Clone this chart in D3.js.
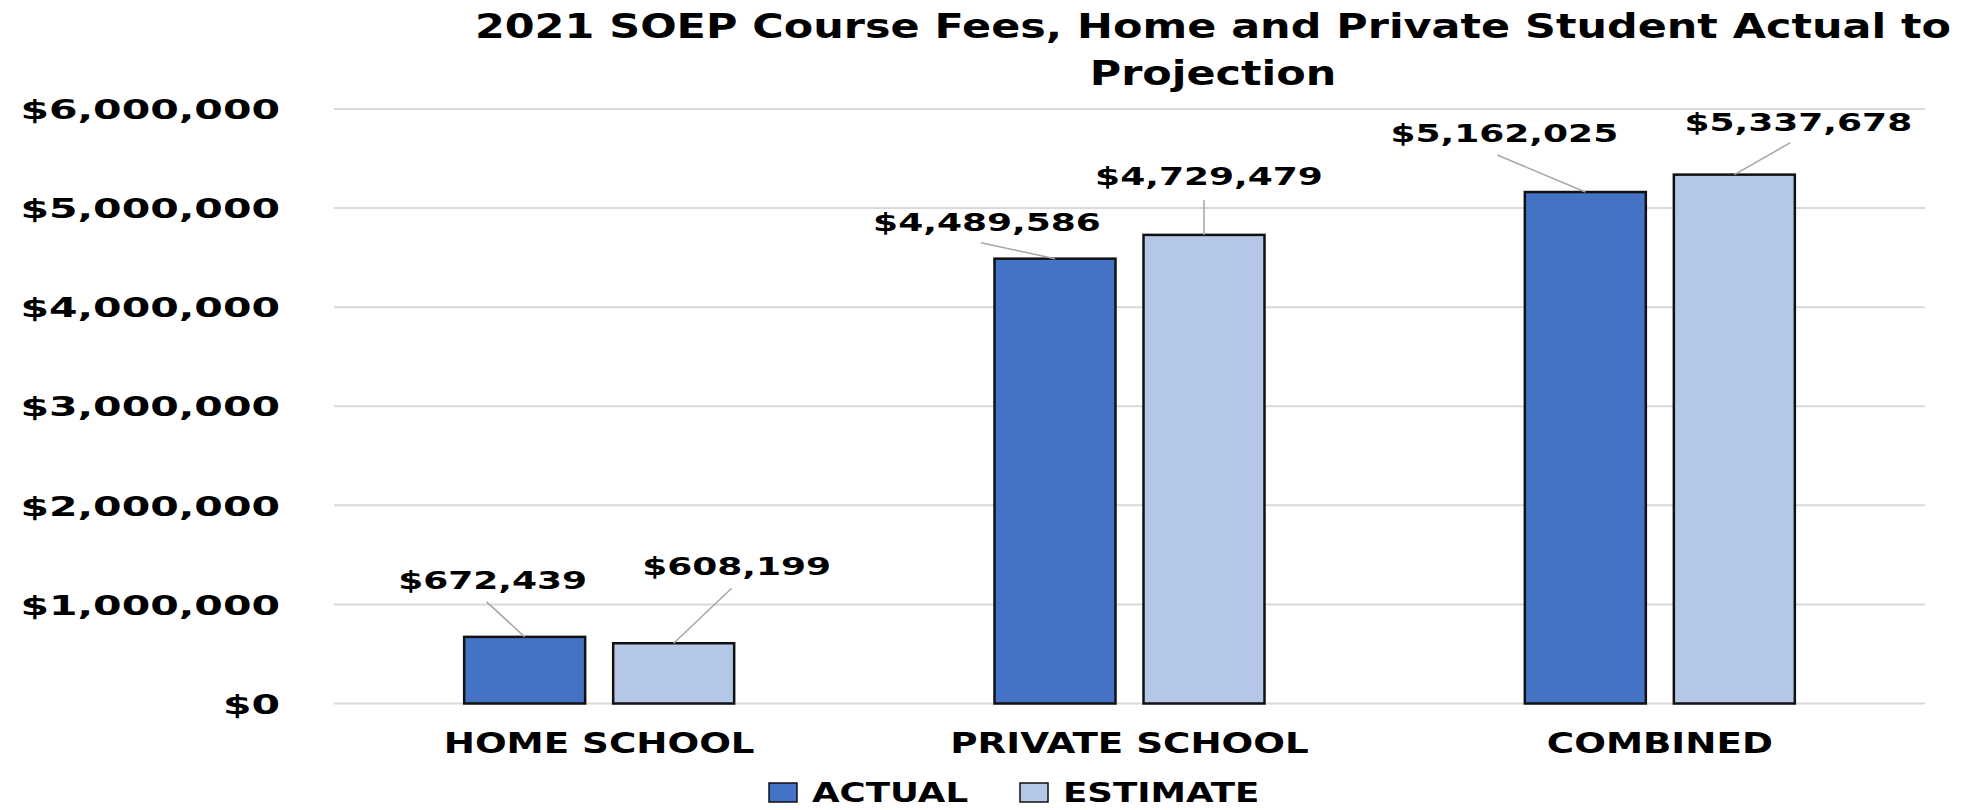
<!DOCTYPE html>
<html>
<head>
<meta charset="utf-8">
<script src="https://cdn.jsdelivr.net/npm/d3@7"></script>
<style>
  html, body { margin: 0; padding: 0; background: #ffffff; }
  svg { display: block; }
  text { font-family: "DejaVu Sans", Verdana, sans-serif; font-weight: bold; fill: #000; }
</style>
</head>
<body>
<svg id="chart" width="1981" height="810"></svg>
<script>
// ---------------- data ----------------
const titleLines = ["2021 SOEP Course Fees, Home and Private Student Actual to", "Projection"];
const categories = ["HOME SCHOOL", "PRIVATE SCHOOL", "COMBINED"];
const seriesNames = ["ACTUAL", "ESTIMATE"];
const actualValues = [672439, 4489586, 5162025];
const estimateValues = [608199, 4729479, 5337678];
const yTickValues = [0, 1000000, 2000000, 3000000, 4000000, 5000000, 6000000];

// ---------------- layout (label offsets from bar top centre, leader start) ----------------
const labelLayout = {
  "ACTUAL":   [{dx: -32, dy: -48, lx: -38, ly: -35}, {dx: -68, dy: -28, lx: -74, ly: -16}, {dx: -81, dy: -50, lx: -88, ly: -37}],
  "ESTIMATE": [{dx: 63, dy: -68, lx: 58, ly: -55},   {dx: 5, dy: -50, lx: 0, ly: -35},     {dx: 64, dy: -44, lx: 56, ly: -32}]
};
const colors = {"ACTUAL": "#4472C4", "ESTIMATE": "#B4C7E7"};

const svg = d3.select("#chart");
const plot = {left: 334, right: 1925, top: 109, bottom: 703.5};

function stretch(sel, k) {
  sel.each(function() {
    const w = this.getComputedTextLength();
    d3.select(this).attr("textLength", w * k).attr("lengthAdjust", "spacingAndGlyphs");
  });
}

const y = d3.scaleLinear().domain([0, 6000000]).range([plot.bottom, plot.top]);
const x0 = d3.scaleBand().domain(categories).range([plot.left, plot.right]).paddingInner(0).paddingOuter(0);
const bw = x0.bandwidth();
const x1 = d3.scaleBand().domain(seriesNames).range([bw / 2 - 135, bw / 2 + 135]).paddingInner(0.188);

// gridlines
svg.append("g").selectAll("line").data(yTickValues).join("line")
  .attr("x1", plot.left).attr("x2", plot.right)
  .attr("y1", d => y(d)).attr("y2", d => y(d))
  .attr("stroke", "#d9d9d9").attr("stroke-width", 2);

// y axis labels
const fmt = d3.format("$,.0f");
const yAxis = svg.append("g").attr("transform", `translate(280,0)`)
  .call(d3.axisLeft(y).tickValues(yTickValues).tickFormat(fmt).tickSize(0).tickPadding(0));
yAxis.select(".domain").remove();
yAxis.selectAll("text")
  .attr("font-size", 27).attr("font-family", "DejaVu Sans").attr("font-weight", "bold")
  .attr("fill", "#000").attr("dy", "0.36em");
stretch(yAxis.selectAll("text"), 1.52);

// x axis labels
const xAxis = svg.append("g").attr("transform", `translate(0,${plot.bottom})`)
  .call(d3.axisBottom(x0).tickSize(0).tickPadding(0));
xAxis.select(".domain").remove();
xAxis.selectAll("text")
  .attr("font-size", 27.5).attr("font-family", "DejaVu Sans").attr("font-weight", "bold")
  .attr("fill", "#000").attr("dy", 0).attr("y", 49.5);
stretch(xAxis.selectAll("text"), 1.355);

// bars
const rows = categories.map((c, i) => ({cat: c, i, vals: [
  {s: "ACTUAL", v: actualValues[i]}, {s: "ESTIMATE", v: estimateValues[i]}]}));

const groups = svg.append("g").selectAll("g").data(rows).join("g")
  .attr("transform", d => `translate(${x0(d.cat)},0)`);

groups.selectAll("rect").data(d => d.vals).join("rect")
  .attr("x", d => x1(d.s)).attr("width", x1.bandwidth())
  .attr("y", d => y(d.v)).attr("height", d => y(0) - y(d.v))
  .attr("fill", d => colors[d.s]).attr("stroke", "#111").attr("stroke-width", 2.5);

// leader lines + labels
const labels = [];
rows.forEach(r => r.vals.forEach(d => labels.push({cat: r.cat, i: r.i, s: d.s, v: d.v})));
const lg = svg.append("g");
lg.selectAll("line").data(labels).join("line")
  .attr("x1", d => x0(d.cat) + x1(d.s) + x1.bandwidth() / 2 + labelLayout[d.s][d.i].lx)
  .attr("y1", d => y(d.v) + labelLayout[d.s][d.i].ly)
  .attr("x2", d => x0(d.cat) + x1(d.s) + x1.bandwidth() / 2)
  .attr("y2", d => y(d.v))
  .attr("stroke", "#a6a6a6").attr("stroke-width", 1.5);
const lt = lg.selectAll("text").data(labels).join("text")
  .attr("x", d => x0(d.cat) + x1(d.s) + x1.bandwidth() / 2 + labelLayout[d.s][d.i].dx)
  .attr("y", d => y(d.v) + labelLayout[d.s][d.i].dy)
  .attr("text-anchor", "middle").attr("font-size", 25)
  .text(d => fmt(d.v));
stretch(lt, 1.44);

// title
const tt = svg.append("g").selectAll("text").data(titleLines).join("text")
  .attr("x", 1213).attr("y", (d, i) => 37.5 + i * 47.5)
  .attr("text-anchor", "middle").attr("font-size", 33)
  .text(d => d);
stretch(tt, 1.30);

// legend
const legendX = [769, 1020];
const leg = svg.append("g").selectAll("g").data(seriesNames).join("g")
  .attr("transform", (d, i) => `translate(${legendX[i]},783)`);
leg.append("rect").attr("width", 28).attr("height", 19)
  .attr("fill", d => colors[d]).attr("stroke", "#111").attr("stroke-width", 1.5);
const legT = leg.append("text").attr("x", 43).attr("y", 19).attr("font-size", 26).text(d => d);
stretch(legT, 1.37);
</script>
</body>
</html>
